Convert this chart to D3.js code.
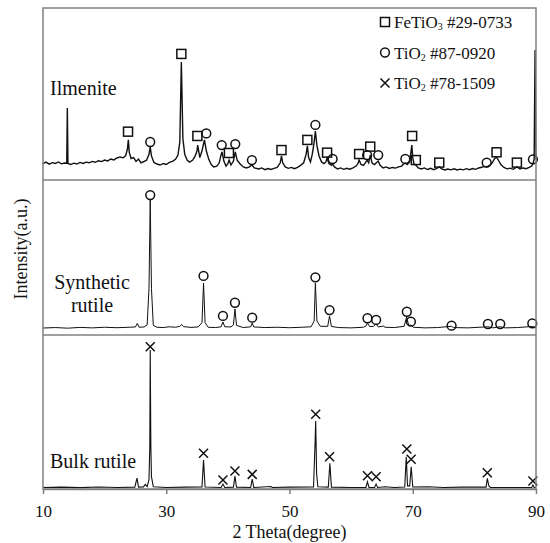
<!DOCTYPE html>
<html>
<head>
<meta charset="utf-8">
<script src="https://cdn.jsdelivr.net/npm/d3@7"></script>
<style>
  body { margin: 0; background: #fff; }
  text { font-family: "Liberation Serif", "Times New Roman", serif; fill: #111; }
</style>
</head>
<body>
<div id="chart"></div>
<script>
// 2 theta ticks
const xTicks = [10, 30, 50, 70, 90];

// Ilmenite pattern [2theta, intensity]
const ilmenite = [[10,9.5],[10.5,10.4],[11,9.2],[11.5,10.1],[12,9.6],[12.5,10.5],[13,9.4],[13.5,9.9],[13.85,9.8],[13.95,41.9],[14.05,9.6],[14.5,9.0],[15,9.8],[15.5,9.3],[16,10.2],[16.5,9.6],[17,10.4],[17.5,10.0],[18,10.8],[18.5,10.3],[19,11.2],[19.5,10.7],[20,11.6],[20.5,11.1],[21,12.2],[21.5,11.7],[22,12.8],[22.5,13.4],[23,12.9],[23.4,14.0],[23.7,18],[23.85,23.3],[24.0,16],[24.3,12.5],[24.7,13.0],[25.1,10.8],[25.5,12.2],[25.9,10.0],[26.3,10.6],[26.8,11.5],[27.2,15],[27.4,19.2],[27.6,14],[28.0,10.2],[28.5,9.3],[29,8.7],[29.5,9.6],[30,9.0],[30.5,10.2],[31,10.8],[31.5,12],[31.9,14.5],[32.2,22],[32.45,68.6],[32.7,24],[33.0,15],[33.4,11.5],[33.8,10.4],[34.3,11.6],[34.7,14],[35.0,17],[35.1,20.3],[35.45,13],[35.8,17],[36.2,23.3],[36.5,17],[36.9,12],[37.3,9.0],[37.7,7.6],[38.2,8.1],[38.6,10],[38.85,14],[39.05,16.3],[39.35,11],[39.7,8.1],[40.0,9.5],[40.2,11.6],[40.5,8.7],[40.9,11],[41.2,16.3],[41.5,11.5],[42,9.3],[42.5,7.6],[43,7.0],[43.5,7.6],[43.9,8.7],[44.3,7.0],[45,6.4],[45.5,7.0],[46,6.0],[46.5,6.7],[47,6.1],[47.5,6.8],[48.0,7.3],[48.5,10],[48.7,14],[48.9,10],[49.3,7.6],[49.8,6.8],[50.3,7.3],[50.8,6.6],[51.3,7.4],[51.8,8.5],[52.3,10],[52.7,15],[52.9,19.8],[53.1,13],[53.4,10.5],[53.7,15],[54.0,22],[54.2,28.5],[54.45,20],[54.8,14],[55.2,10.5],[55.6,9.5],[55.9,10.5],[56.1,12.8],[56.4,9.6],[56.8,8.5],[57.0,9.3],[57.3,7.6],[57.8,6.4],[58.3,7.0],[58.8,6.2],[59.3,6.8],[59.8,6.3],[60.3,7.1],[60.8,8.1],[61.1,9.5],[61.3,11.6],[61.6,9.0],[62.0,8.5],[62.3,10],[62.6,11.6],[62.85,10],[63.1,14.5],[63.4,9.8],[63.8,9.0],[64.1,10],[64.4,11],[64.7,8.6],[65.2,7.0],[65.7,7.6],[66.2,6.7],[66.7,7.3],[67.2,6.9],[67.7,7.6],[68.2,8.1],[68.5,9.3],[68.8,9.9],[69.1,9.0],[69.5,10.5],[69.85,20.3],[70.0,13],[70.2,9.3],[70.5,8.7],[70.9,7.0],[71.4,6.4],[71.9,7.0],[72.4,6.1],[72.9,6.8],[73.4,6.0],[73.9,6.7],[74.3,7.6],[74.7,6.4],[75.2,5.8],[75.7,6.4],[76.2,5.9],[76.7,6.5],[77.2,5.8],[77.7,6.3],[78.2,5.9],[78.7,6.6],[79.2,6.0],[79.7,6.7],[80.2,6.2],[80.7,7.0],[81.2,7.4],[81.6,7.9],[82.0,7.6],[82.4,8.3],[82.9,10],[83.3,12.5],[83.6,13.4],[83.9,11.5],[84.3,9.0],[84.8,7.3],[85.3,6.5],[85.8,6.9],[86.3,6.2],[86.9,7.6],[87.4,6.4],[87.9,7.0],[88.4,6.6],[88.9,7.3],[89.3,8.1],[89.5,9.5],[89.7,12],[89.85,75.6],[89.95,20],[90,12]];

// Synthetic rutile pattern
const synthetic = [[10,4.5],[12,4.8],[14,4.4],[16,4.9],[18,4.6],[20,5.0],[22,4.7],[24,5.0],[25.0,5.2],[25.3,7.5],[25.6,5.0],[26.4,5.2],[26.9,6.5],[27.2,30],[27.4,87.1],[27.6,30],[27.9,6.2],[28.5,5.0],[29.5,4.8],[30.5,5.3],[31.5,5.0],[32.2,5.6],[32.5,6.8],[32.8,5.4],[34,4.9],[35.2,5.2],[35.8,8],[36.05,33.5],[36.3,8],[36.8,5.0],[38,4.8],[38.9,5.3],[39.2,8.4],[39.5,5.3],[40.5,5.2],[40.9,6.5],[41.15,16.8],[41.4,6.2],[42.5,4.8],[43.7,5.3],[43.95,7.7],[44.2,5.2],[46,4.8],[48,5.0],[50,4.7],[52,5.0],[53.5,5.3],[54.0,9],[54.2,33.5],[54.45,9],[55,5.6],[56.2,5.6],[56.5,12.3],[56.8,5.5],[58,4.8],[60,4.6],[62,5.0],[62.4,5.8],[62.65,7.7],[63.0,5.5],[63.6,5.5],[64.05,7.1],[64.4,5.2],[65.2,5.8],[65.5,5.0],[67,4.8],[68.6,5.6],[69.0,11.6],[69.35,6.2],[69.7,6.5],[70.1,5.0],[72,4.6],[74,4.8],[76.3,5.6],[76.6,4.8],[79,4.6],[82.2,5.3],[83,4.6],[84.2,5.3],[85,4.6],[87,4.8],[89.4,5.5],[90,4.9]];

// Bulk rutile pattern
const bulk = [[10,1.0],[13,1.2],[16,0.9],[19,1.3],[22,1.0],[24.9,1.2],[25.25,7.1],[25.5,1.2],[26.3,1.4],[26.6,3.0],[26.9,1.6],[27.2,6],[27.33,27],[27.4,90.3],[27.5,28],[27.6,8],[27.9,1.5],[30,1.0],[33,1.2],[35.8,1.3],[36.05,18.8],[36.3,1.3],[38.9,1.0],[39.2,3.2],[39.5,1.0],[40.9,1.2],[41.15,8.4],[41.4,1.2],[43.7,1.0],[43.95,6.5],[44.2,1.0],[47,1.6],[47.2,1.0],[50,1.2],[53.9,1.3],[54.15,30],[54.25,44.2],[54.4,10],[54.6,1.5],[56.3,1.2],[56.55,16.7],[56.8,1.2],[60,1.0],[62.4,1.0],[62.65,4.7],[62.9,1.0],[63.8,1.0],[64.05,3.2],[64.3,1.0],[65.5,1.5],[67,1.0],[68.7,1.3],[68.95,21],[69.15,2],[69.5,2],[69.75,14.5],[70.0,1.3],[72.5,1.5],[75,1.0],[78,1.2],[81.9,1.2],[82.1,6.9],[82.35,2],[82.6,1.0],[86,1.0],[89.3,1.0],[89.5,2.6],[89.7,1.0],[90,1.0]];

// phase markers [2theta, intensity]
const ilmSquares = [[23.8,28.1],[32.45,73.3],[35.05,25.6],[40.17,15.7],[48.7,17.4],[52.9,23.3],[56.1,15.9],[61.3,15.1],[63.1,19.4],[69.9,25.6],[70.5,11.6],[74.3,10.1],[83.6,16.1],[86.9,10.1]];
const ilmCircles = [[27.4,22.1],[36.5,27.1],[39.0,20.3],[41.2,20.9],[43.9,11.6],[54.2,32],[57.0,12.2],[62.6,14.5],[64.4,14.5],[68.8,12.2],[82.0,10.1],[89.5,12.0]];
const synCircles = [[27.4,90.3],[36.05,38.1],[39.2,12.3],[41.15,20.8],[43.95,11.2],[54.2,37.2],[56.5,16.1],[62.65,10.8],[64.06,9.7],[69.04,15],[69.7,8.6],[76.3,6.0],[82.2,7.1],[84.2,7.1],[89.4,7.5]];
const bulkCrosses = [[27.4,92.4],[36.05,23.2],[39.2,5.8],[41.15,11.7],[43.95,9.5],[54.25,48.5],[56.5,21],[62.65,8.6],[64.06,8.0],[69.04,26],[69.74,19.3],[82.1,10.6],[89.5,5.2]];

const legendItems = [
  { shape: "square", name: "FeTiO", sub: "3", code: " #29-0733" },
  { shape: "circle", name: "TiO", sub: "2", code: " #87-0920" },
  { shape: "cross", name: "TiO", sub: "2", code: " #78-1509" }
];

const width = 550, height = 543;
const plotLeft = 43, plotRight = 536, plotTop = 8, plotBottom = 489;
const splits = [180, 335];
const frame = "#808080";

const svg = d3.select("#chart").append("svg")
  .attr("width", width)
  .attr("height", height);

const x = d3.scaleLinear().domain([10, 90]).range([plotLeft, plotRight]);

const panels = [
  { data: ilmenite, stroke: 1.4, y: d3.scaleLinear().domain([0, 100]).range([splits[0], plotTop]),
    marks: [["square", ilmSquares], ["circle", ilmCircles]] },
  { data: synthetic, stroke: 1, y: d3.scaleLinear().domain([0, 100]).range([splits[1], splits[0]]),
    marks: [["circle", synCircles]] },
  { data: bulk, stroke: 1.1, y: d3.scaleLinear().domain([0, 100]).range([plotBottom, splits[1]]),
    marks: [["cross", bulkCrosses]] }
];

function drawMarker(g, shape, cx, cy) {
  if (shape === "square") {
    g.append("rect").attr("x", cx - 4.5).attr("y", cy - 4.5)
      .attr("width", 9).attr("height", 9)
      .attr("fill", "none").attr("stroke", "#111").attr("stroke-width", 1.5);
  } else if (shape === "circle") {
    g.append("circle").attr("cx", cx).attr("cy", cy).attr("r", 4.4)
      .attr("fill", "none").attr("stroke", "#111").attr("stroke-width", 1.5);
  } else {
    g.append("path")
      .attr("d", `M${cx - 4.5},${cy - 4.5}L${cx + 4.5},${cy + 4.5}M${cx - 4.5},${cy + 4.5}L${cx + 4.5},${cy - 4.5}`)
      .attr("stroke", "#111").attr("stroke-width", 1.5);
  }
}

panels.forEach((p) => {
  const line = d3.line().x((d) => x(d[0])).y((d) => p.y(d[1]));
  svg.append("path")
    .datum(p.data)
    .attr("d", line)
    .attr("fill", "none")
    .attr("stroke", "#111")
    .attr("stroke-width", p.stroke);

  const mg = svg.append("g");
  p.marks.forEach(([shape, pts]) => {
    pts.forEach((d) => drawMarker(mg, shape, x(d[0]), p.y(d[1])));
  });
});

// frame and panel separators
svg.append("rect")
  .attr("x", plotLeft).attr("y", plotTop)
  .attr("width", plotRight - plotLeft).attr("height", plotBottom - plotTop)
  .attr("fill", "none").attr("stroke", frame).attr("stroke-width", 1.5);

splits.forEach((s) => {
  svg.append("line")
    .attr("x1", plotLeft).attr("x2", plotRight)
    .attr("y1", s).attr("y2", s)
    .attr("stroke", frame).attr("stroke-width", 1.5);
});

// x axis
const xAxis = svg.append("g")
  .attr("transform", `translate(0,${plotBottom})`)
  .call(d3.axisBottom(x).tickValues(xTicks).tickSizeInner(5).tickSizeOuter(0).tickPadding(11));
xAxis.select(".domain").attr("stroke", frame).attr("stroke-width", 1.5);
xAxis.selectAll(".tick line").attr("stroke", frame).attr("stroke-width", 1.5);
xAxis.selectAll(".tick text")
  .attr("font-size", 17)
  .attr("fill", "#111");

svg.append("text")
  .attr("x", (plotLeft + plotRight) / 2).attr("y", 538)
  .attr("text-anchor", "middle")
  .attr("font-size", 18)
  .text("2 Theta(degree)");

svg.append("text")
  .attr("transform", `translate(27,249) rotate(-90)`)
  .attr("text-anchor", "middle")
  .attr("font-size", 18)
  .text("Intensity(a.u.)");

// sample labels
svg.append("text").attr("x", 50).attr("y", 95).attr("font-size", 20).text("Ilmenite");
svg.append("text").attr("x", 92).attr("y", 289).attr("font-size", 20)
  .attr("text-anchor", "middle").text("Synthetic");
svg.append("text").attr("x", 92).attr("y", 312).attr("font-size", 20)
  .attr("text-anchor", "middle").text("rutile");
svg.append("text").attr("x", 50).attr("y", 468).attr("font-size", 20).text("Bulk rutile");

// legend
const lg = svg.append("g");
legendItems.forEach((d, i) => {
  const cy = 22 + i * 30.5;
  drawMarker(lg, d.shape, 385, cy);
  const t = lg.append("text").attr("x", 394).attr("y", cy + 6).attr("font-size", 17);
  t.append("tspan").text(d.name);
  t.append("tspan").attr("font-size", 10).attr("dy", 2).text(d.sub);
  t.append("tspan").attr("dy", -2).text(d.code);
});
</script>
</body>
</html>
